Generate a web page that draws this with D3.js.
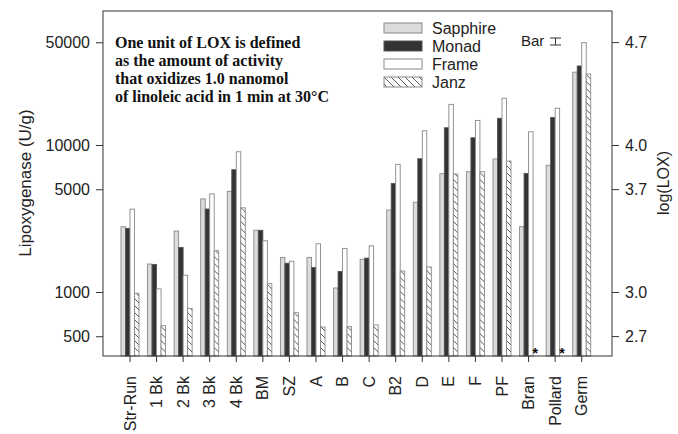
<!DOCTYPE html>
<html>
<head>
<meta charset="utf-8">
<script src="https://cdn.jsdelivr.net/npm/d3@7"></script>
<style>
  body { margin: 0; background: #fff; }
  svg text { font-family: "Liberation Sans", Arial, sans-serif; }
</style>
</head>
<body>
<svg id="chart" width="678" height="434"></svg>
<script>
const categories = ['Str-Run', '1 Bk', '2 Bk', '3 Bk', '4 Bk', 'BM', 'SZ', 'A', 'B', 'C',
  'B2', 'D', 'E', 'F', 'PF', 'Bran', 'Pollard', 'Germ'];
const seriesNames = ['Sapphire', 'Monad', 'Frame', 'Janz'];
const sapphire = [2780, 1550, 2600, 4300, 4840, 2630, 1720, 1720, 1065, 1670,
  3610, 4080, 6380, 6580, 8040, 2780, 7280, 31300];
const monad = [2710, 1540, 2010, 3670, 6790, 2630, 1570, 1470, 1380, 1700,
  5480, 8070, 13100, 11200, 15200, 6410, 15400, 34500];
const frame = [3660, 1050, 1300, 4650, 9000, 2230, 1620, 2130, 1980, 2060,
  7390, 12500, 18900, 14700, 20800, 12300, 17800, 49700];
const janz = [980, 590, 774, 1910, 3740, 1140, 723, 578, 581, 597,
  1390, 1480, 6350, 6580, 7780, null, null, 30400];
const leftTicks = [500, 1000, 5000, 10000, 50000];
const rightTicks = [2.7, 3.0, 3.7, 4.0, 4.7];
const note = ['One unit of LOX is defined', 'as the amount of activity',
  'that oxidizes 1.0 nanomol', 'of linoleic acid in 1 min at 30\u00B0C'];

const series = [sapphire, monad, frame, janz];
const fills = ['#dcdcdc', '#333333', '#ffffff', 'url(#hatch)'];

const svg = d3.select('#chart');
const m = { left: 103, right: 612, top: 11, bottom: 356 };

const defs = svg.append('defs');
const pat = defs.append('pattern')
  .attr('id', 'hatch')
  .attr('patternUnits', 'userSpaceOnUse')
  .attr('width', 7).attr('height', 7);
pat.append('rect').attr('width', 7).attr('height', 7).attr('fill', '#fff');
pat.append('path').attr('d', 'M0,0 L7,7 M-1,6 L1,8 M6,-1 L8,1')
  .attr('stroke', '#444').attr('stroke-width', 0.9);

const y = d3.scaleLog().domain([367, 81600]).range([m.bottom, m.top]);
const yr = d3.scaleLinear().domain([Math.log10(367), Math.log10(81600)]).range([m.bottom, m.top]);
const x0 = d3.scaleBand().domain(categories).range([116.7, 595]).padding(0);
const x1 = d3.scaleBand().domain(seriesNames).range([-9, 9]).padding(0);

// bars
const groups = svg.append('g').selectAll('g')
  .data(categories)
  .join('g')
  .attr('transform', (d) => `translate(${x0(d) + x0.bandwidth() / 2},0)`);

groups.selectAll('rect')
  .data((c, i) => seriesNames.map((s, k) => ({ s, k, v: series[k][i] })).filter((d) => d.v != null))
  .join('rect')
  .attr('x', (d) => x1(d.s))
  .attr('y', (d) => y(d.v))
  .attr('width', x1.bandwidth())
  .attr('height', (d) => m.bottom - y(d.v))
  .attr('fill', (d) => fills[d.k])
  .attr('stroke', (d) => d.k === 1 ? '#555' : '#888')
  .attr('stroke-width', 0.9);

// missing values
groups.filter((c, i) => janz[i] == null)
  .append('text')
  .attr('x', x1('Janz') + x1.bandwidth() / 2)
  .attr('y', m.bottom + 2)
  .attr('text-anchor', 'middle')
  .attr('font-size', 14)
  .attr('font-weight', 'bold')
  .text('*');

// frame
svg.append('rect')
  .attr('x', m.left).attr('y', m.top)
  .attr('width', m.right - m.left).attr('height', m.bottom - m.top)
  .attr('fill', 'none').attr('stroke', '#333').attr('stroke-width', 1);

// left axis
const la = svg.append('g')
  .attr('transform', `translate(${m.left},0)`)
  .call(d3.axisLeft(y).tickValues(leftTicks).tickFormat(d3.format('d')).tickSize(7).tickPadding(6));
la.select('.domain').remove();
la.selectAll('text').attr('font-size', 16).attr('fill', '#222');
la.selectAll('line').attr('stroke', '#333');

// right axis
const ra = svg.append('g')
  .attr('transform', `translate(${m.right},0)`)
  .call(d3.axisRight(yr).tickValues(rightTicks).tickFormat(d3.format('.1f')).tickSize(7).tickPadding(6));
ra.select('.domain').remove();
ra.selectAll('text').attr('font-size', 16).attr('fill', '#222');
ra.selectAll('line').attr('stroke', '#333');

// bottom axis
const ba = svg.append('g')
  .attr('transform', `translate(0,${m.bottom})`)
  .call(d3.axisBottom(x0).tickSize(6).tickPadding(4));
ba.select('.domain').remove();
ba.selectAll('line').attr('stroke', '#333');
ba.selectAll('text')
  .attr('font-size', 16).attr('fill', '#222')
  .attr('text-anchor', 'end')
  .attr('dy', '0.35em')
  .attr('transform', 'rotate(-90)')
  .attr('x', -20).attr('y', 0);

// axis titles
svg.append('text')
  .attr('transform', 'translate(31,183) rotate(-90)')
  .attr('text-anchor', 'middle')
  .attr('font-size', 17).attr('fill', '#222')
  .text('Lipoxygenase (U/g)');
svg.append('text')
  .attr('transform', 'translate(669,183) rotate(-90)')
  .attr('text-anchor', 'middle')
  .attr('font-size', 16).attr('fill', '#222')
  .text('log(LOX)');

// note
svg.append('g').selectAll('text')
  .data(note)
  .join('text')
  .attr('x', 115)
  .attr('y', (d, i) => 48 + i * 18)
  .style('font-family', '"Liberation Serif", "Times New Roman", serif')
  .attr('font-weight', 'bold')
  .attr('font-size', 16)
  .attr('fill', '#111')
  .text((d) => d);

// legend
const lg = svg.append('g').attr('transform', 'translate(384,23)');
const li = lg.selectAll('g').data(seriesNames).join('g')
  .attr('transform', (d, i) => `translate(0,${i * 18})`);
li.append('rect')
  .attr('width', 38).attr('height', 10)
  .attr('fill', (d, i) => fills[i])
  .attr('stroke', (d, i) => i === 1 ? '#555' : '#888');
li.append('text')
  .attr('x', 48).attr('y', 5).attr('dy', '0.35em')
  .attr('font-size', 16).attr('fill', '#222')
  .text((d) => d);

// error bar key
svg.append('text')
  .attr('x', 521).attr('y', 46)
  .attr('font-size', 15).attr('fill', '#222')
  .text('Bar');
svg.append('path')
  .attr('d', 'M550,38 H561 M555.5,38 V45 M550,45 H561')
  .attr('stroke', '#333').attr('stroke-width', 1).attr('fill', 'none');
</script>
</body>
</html>
